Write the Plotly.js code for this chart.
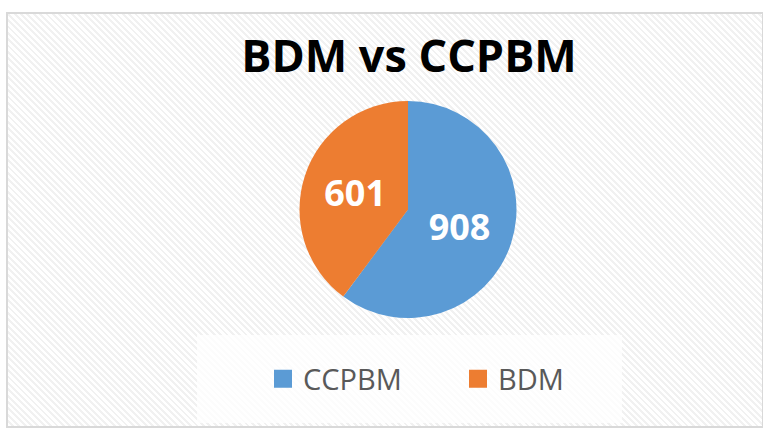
<!DOCTYPE html>
<html>
<head>
<meta charset="utf-8">
<script src="https://cdn.plot.ly/plotly-3.0.1.min.js"></script>
<style>
  html, body { margin: 0; padding: 0; background: #ffffff; width: 763px; height: 428px; overflow: hidden; }
  #frame {
    position: absolute; left: 6px; top: 12px; width: 754px; height: 412px;
    border: 2px solid #d9d9d9;
    background: repeating-linear-gradient(45deg, #ffffff 0px, #ffffff 2.5px, #f1f1f1 2.5px, #f1f1f1 4.5px);
  }
  #shadow {
    position: absolute; left: 276px; top: 77px; width: 264px; height: 264px;
    background: radial-gradient(circle at 50% 50%, rgba(0,0,0,0.18) 38%, rgba(0,0,0,0.07) 45%, rgba(0,0,0,0) 52%);
  }
  #chart { position: absolute; left: 0; top: 0; width: 763px; height: 428px; }
</style>
</head>
<body>
<div id="frame"></div>
<div id="shadow"></div>
<div id="chart"></div>
<script>
const categories = ["CCPBM", "BDM"];
const values = [908, 601];
const colors = ["#5B9BD5", "#ED7D31"];
const chartTitle = "BDM vs CCPBM";

const W = 763, H = 428;
const trace = {
  type: "pie",
  labels: categories,
  values: values,
  sort: false,
  direction: "clockwise",
  rotation: 0,
  marker: { colors: colors, line: { width: 0 } },
  textinfo: "value",
  textposition: "inside",
  insidetextorientation: "horizontal",
  textfont: { family: "Open Sans", size: 36, color: "#ffffff", weight: "bold" },
  hoverinfo: "label+value",
  domain: { x: [299.5 / W, 516.5 / W], y: [(H - 318) / H, (H - 101) / H] }
};

const layout = {
  width: W, height: H,
  margin: { l: 0, r: 0, t: 0, b: 0 },
  paper_bgcolor: "rgba(0,0,0,0)",
  plot_bgcolor: "rgba(0,0,0,0)",
  title: {
    text: "<b>" + chartTitle + "</b>",
    font: { family: "Open Sans", size: 45, color: "#000000" },
    x: 409 / W, xanchor: "center",
    y: 1 - 56 / H, yanchor: "middle"
  },
  showlegend: true,
  legend: {
    orientation: "h",
    x: 458 / W, xanchor: "center",
    y: 1 - 379 / H, yanchor: "middle",
    font: { family: "Open Sans", size: 29, color: "#595959" },
    bgcolor: "rgba(0,0,0,0)",
    itemwidth: 30,
    entrywidth: 150,
    entrywidthmode: "pixels",
    traceorder: "normal"
  },
  shapes: [{
    type: "rect", xref: "paper", yref: "paper", layer: "below",
    x0: 197 / W, x1: 622 / W, y0: 1 - 423 / H, y1: 1 - 335 / H,
    fillcolor: "rgba(255,255,255,0.8)", line: { width: 0 }
  }]
};

Plotly.newPlot("chart", [trace], layout, { displayModeBar: false, staticPlot: true }).then(function (gd) {
  gd.querySelectorAll(".legendpoints path").forEach(function (p) {
    p.setAttribute("d", "M9,9H-9V-9H9Z");
    p.style.strokeWidth = "0px";
  });
});
</script>
</body>
</html>
